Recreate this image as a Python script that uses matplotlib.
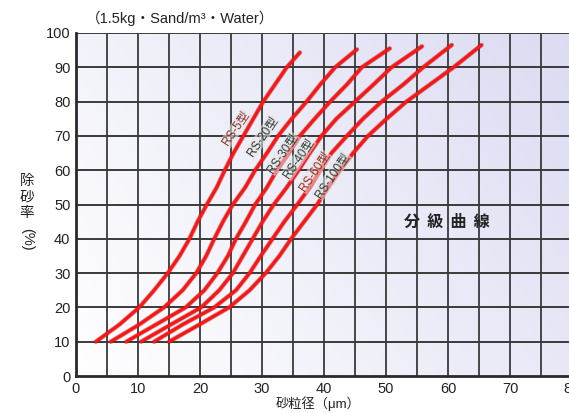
import matplotlib
matplotlib.use('Agg')
import matplotlib.pyplot as plt
import numpy as np

plt.rcParams['font.family'] = ['Liberation Sans', 'Noto Sans CJK JP', 'DejaVu Sans']
CJK = 'Noto Sans CJK JP'

levels = [10, 15, 20, 25, 30, 35, 40, 45, 50, 55, 60, 65, 70, 75, 80, 85, 90]

models = ['RS-5型', 'RS-20型', 'RS-30型', 'RS-40型', 'RS-60型', 'RS-100型']

# particle size (um) at each level, last value is the curve end point
rs5_x = [3.2, 7, 10.2, 12.6, 14.8, 16.7, 18.3, 19.6, 21.1, 22.7, 24, 25.4, 27, 28.6, 30.2, 32.1, 34, 36.1]
rs20_x = [5.6, 10.2, 14.2, 17.2, 19.4, 21, 22.3, 23.7, 25.3, 27.3, 28.9, 30.8, 32.6, 34.8, 37.2, 39.4, 41.8, 45.3]
rs30_x = [8.1, 12.9, 17.7, 20.7, 22.8, 24.5, 25.8, 27.4, 28.9, 30.8, 32.4, 34.3, 36.1, 38.5, 41, 43.7, 46.1, 50.6]
rs40_x = [10.5, 15.3, 20.2, 23.1, 25.3, 26.9, 28.5, 30.1, 31.9, 34, 35.9, 37.7, 39.6, 42, 45, 48, 50.9, 55.8]
rs60_x = [12.6, 17.2, 22.3, 25.8, 28, 29.8, 31.7, 33.6, 35.7, 37.7, 39.4, 41.2, 43.7, 46.3, 49.3, 52.8, 56, 60.6]
rs100_x = [15, 19.9, 24.7, 28, 30.6, 32.8, 34.7, 36.8, 38.9, 40.7, 42.6, 44.7, 47.1, 50.1, 53.3, 57.1, 60.9, 65.4]
end_y = [94.3, 95.2, 95.5, 96.1, 96.5, 96.5]

# label anchor (x, y) along each curve
label_x = [25.8, 30.0, 33.3, 35.9, 38.4, 41.3]
label_y = [72.2, 69.8, 64.9, 63.4, 59.6, 58.4]
label_colors = ['#8a2a20', '#2e2e2e', '#2e3a34', '#2e3a34', '#9a2a20', '#2e3a34']

xticks = list(range(0, 90, 10))
yticks = list(range(0, 110, 10))

W, H = 569, 413
fig = plt.figure(figsize=(W / 100, H / 100), dpi=100)
ax = fig.add_axes([76 / W, 37 / H, 496 / W, 343 / H])

# background gradient, white at lower left to lavender at upper right
gx, gy = np.meshgrid(np.linspace(0, 1, 200), np.linspace(0, 1, 200))
t = np.clip(0.65 * gx + 0.35 * gy, 0, 1)
c0 = np.array([1.0, 1.0, 1.0])
c1 = np.array([0.86, 0.86, 0.95])
img = c0[None, None, :] * (1 - t[..., None]) + c1[None, None, :] * t[..., None]
ax.imshow(img, extent=[0, 80, 0, 100], origin='lower', aspect='auto', zorder=0)

for v in range(5, 80, 5):
    ax.axvline(v, color='#3a3a3a', lw=1.3, zorder=1)
for v in range(10, 101, 10):
    ax.axhline(v, color='#3a3a3a', lw=1.4, zorder=1)

all_x = [rs5_x, rs20_x, rs30_x, rs40_x, rs60_x, rs100_x]
for xs, ye in zip(all_x, end_y):
    ys = levels + [ye]
    ax.plot(xs, ys, color='#7a1010', lw=3.4, alpha=0.4, zorder=2,
            solid_capstyle='round', solid_joinstyle='round')
    ax.plot(xs, ys, color='#ff1414', lw=2.3, zorder=3,
            solid_capstyle='round', solid_joinstyle='round')

for name, lx, ly, lc in zip(models, label_x, label_y, label_colors):
    ax.text(lx, ly, name, rotation=56, ha='center', va='center', fontsize=8.5,
            color=lc, zorder=4, rotation_mode='anchor',
            bbox=dict(boxstyle='square,pad=0.05', facecolor='#e4e6e4', edgecolor='none', alpha=0.55))

ax.text(59.8, 44.9, '分  級  曲  線', fontsize=11.5, fontweight='bold', family=CJK,
        ha='center', va='center', color='#222222', zorder=4)

ax.set_xlim(0, 80)
ax.set_ylim(0, 100)
ax.set_xticks(xticks)
ax.set_yticks(yticks)
ax.tick_params(length=0, labelsize=10.5, colors='#222222', pad=4)
for s in ['top', 'right']:
    ax.spines[s].set_visible(False)
for s in ['left', 'bottom']:
    ax.spines[s].set_linewidth(2)
    ax.spines[s].set_color('#2a2a2a')

fig.text(86 / W, 1 - 18 / H, '（1.5kg・Sand/m³・Water）', fontsize=10.5, va='center',
         ha='left', color='#222222')

# vertical y label, one character per line
for ch, py in zip(['除', '砂', '率'], [181, 197, 213]):
    fig.text(27 / W, 1 - py / H, ch, fontsize=10.5, family=CJK,
             ha='center', va='center', color='#222222')
fig.text(27 / W, 1 - 239 / H, '(%)', fontsize=10.5, ha='center', va='center',
         rotation=-90, color='#222222')

fig.text(318 / W, 1 - 404 / H, '砂粒径（μm）', fontsize=9.5, ha='center', va='center',
         color='#222222')

fig.savefig('out.png', dpi=100)
